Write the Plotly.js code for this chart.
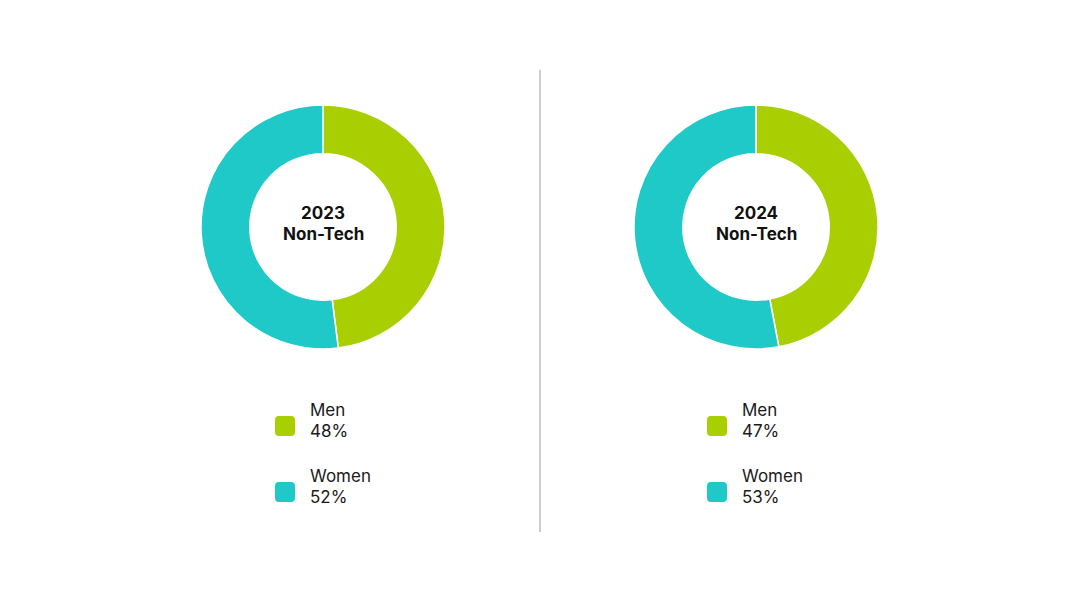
<!DOCTYPE html>
<html>
<head>
<meta charset="utf-8">
<script src="https://cdn.plot.ly/plotly-3.0.1.min.js"></script>
<style>
  html, body { margin: 0; padding: 0; background: #fff; }
  #plot { width: 1080px; height: 608px; }
</style>
</head>
<body>
<div id="plot"></div>
<script>
const years = ["2023", "2024"];
const groupLabel = "Non-Tech";
const categories = ["Men", "Women"];
const shares2023 = [48, 52];
const shares2024 = [47, 53];

const colors = ["#a9cf02", "#1fc9c8"];
const W = 1080, H = 608;
const FONT = "Inter, 'Noto Sans', sans-serif";

// pie placement in pixels (center x, center y, radius)
const pies = [
    { cx: 323, cy: 227, r: 122, values: shares2023, year: years[0], legendX: 275 },
    { cx: 756, cy: 227, r: 122, values: shares2024, year: years[1], legendX: 707 }
];

function px(x) { return x / W; }
function py(y) { return 1 - y / H; }

function roundedRect(x0, y0, x1, y1, rad) {
    const rx = rad / W, ry = rad / H;
    const a = px(x0), b = px(x1), top = py(y0), bot = py(y1);
    return `M ${a + rx} ${top} L ${b - rx} ${top} Q ${b} ${top} ${b} ${top - ry} ` +
        `L ${b} ${bot + ry} Q ${b} ${bot} ${b - rx} ${bot} L ${a + rx} ${bot} ` +
        `Q ${a} ${bot} ${a} ${bot + ry} L ${a} ${top - ry} Q ${a} ${top} ${a + rx} ${top} Z`;
}

function label(x, y, text, anchor, size, color) {
    return {
        x: px(x), y: py(y), xref: "paper", yref: "paper",
        text: text, showarrow: false, xanchor: anchor, yanchor: "middle",
        font: { family: FONT, size: size, color: color }
    };
}

const data = [];
const annotations = [];
const shapes = [];

pies.forEach(p => {
    data.push({
        type: "pie",
        labels: categories,
        values: p.values,
        hole: 0.6,
        sort: false,
        direction: "clockwise",
        rotation: 0,
        textinfo: "none",
        hoverinfo: "label+percent",
        marker: { colors: colors, line: { color: "#ffffff", width: 1.5 } },
        domain: { x: [px(p.cx - p.r), px(p.cx + p.r)], y: [py(p.cy + p.r), py(p.cy - p.r)] },
        showlegend: false
    });

    annotations.push(label(p.cx, 213, "<b>" + p.year + "</b>", "center", 17, "#111111"));
    annotations.push(label(p.cx, 234, "<b>" + groupLabel + "</b>", "center", 17, "#111111"));

    categories.forEach((cat, i) => {
        const top = 416 + i * 66;
        shapes.push({
            type: "path", xref: "paper", yref: "paper",
            path: roundedRect(p.legendX, top, p.legendX + 20, top + 20, 4),
            fillcolor: colors[i], line: { width: 0 }
        });
        annotations.push(label(p.legendX + 33, top - 6, cat, "left", 17, "#1a1a1a"));
        annotations.push(label(p.legendX + 33, top + 15, p.values[i] + "%", "left", 17, "#1a1a1a"));
    });
});

// vertical divider
shapes.push({
    type: "line", xref: "paper", yref: "paper",
    x0: px(540), x1: px(540), y0: py(70), y1: py(532),
    line: { color: "#bdbdbd", width: 1.5 }
});

const layout = {
    width: W, height: H,
    margin: { l: 0, r: 0, t: 0, b: 0 },
    paper_bgcolor: "#ffffff",
    plot_bgcolor: "#ffffff",
    annotations: annotations,
    shapes: shapes
};

Plotly.newPlot("plot", data, layout, { displayModeBar: false, staticPlot: true });
</script>
</body>
</html>
